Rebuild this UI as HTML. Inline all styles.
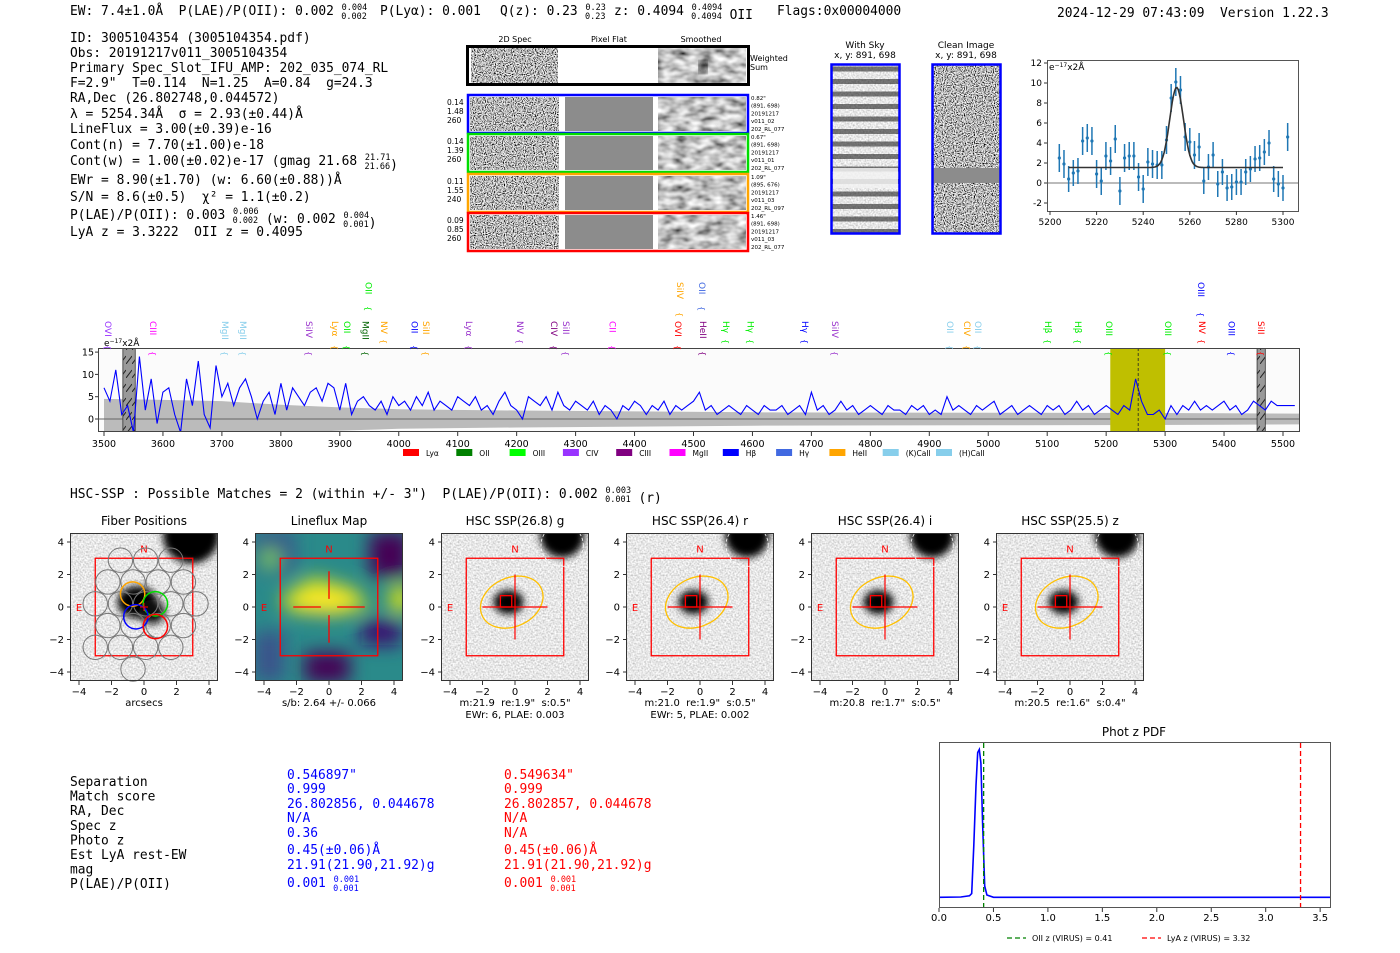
<!DOCTYPE html>
<html><head><meta charset="utf-8"><style>
html,body{margin:0;padding:0;background:#fff;width:1400px;height:953px;overflow:hidden}
svg{display:block}
text{white-space:pre}
.m{font-family:"DejaVu Sans Mono","Liberation Mono",monospace;font-size:12.9px}
.s{font-family:"DejaVu Sans","Liberation Sans",sans-serif}
</style></head><body>
<svg id="fig" width="1400" height="953" viewBox="0 0 1400 953" xmlns="http://www.w3.org/2000/svg" xml:space="preserve">
<defs>
<filter id="nz" x="0" y="0" width="100%" height="100%"><feTurbulence type="fractalNoise" baseFrequency="0.9" numOctaves="1" seed="3"/><feColorMatrix type="matrix" values="3 0 0 0 -1 3 0 0 0 -1 3 0 0 0 -1 0 0 0 0 1"/></filter>
<filter id="nzs" x="0" y="0" width="100%" height="100%"><feTurbulence type="fractalNoise" baseFrequency="0.08 0.14" numOctaves="2" seed="5"/><feColorMatrix type="matrix" values="1.4 0 0 0 -0.15 1.4 0 0 0 -0.15 1.4 0 0 0 -0.15 0 0 0 0 1"/></filter>
<filter id="nzc" x="0" y="0" width="100%" height="100%"><feTurbulence type="fractalNoise" baseFrequency="0.6" numOctaves="1" seed="7"/><feColorMatrix type="matrix" values="0.9 0 0 0 0.35 0.9 0 0 0 0.35 0.9 0 0 0 0.35 0 0 0 0 1"/></filter>
<filter id="bl"><feGaussianBlur stdDeviation="4"/></filter>
<filter id="bl2"><feGaussianBlur stdDeviation="9"/></filter>
<pattern id="hatch" width="6" height="14" patternUnits="userSpaceOnUse"><rect width="6" height="14" fill="#999"/><line x1="0" y1="14" x2="6" y2="6" stroke="#222" stroke-width="1"/></pattern>
<pattern id="stripes" width="10" height="12.5" patternUnits="userSpaceOnUse"><rect width="10" height="5" y="4" fill="#222" opacity="0.6"/></pattern>
</defs>
<g id="root"></g>
</svg>
<script>
const NS='http://www.w3.org/2000/svg';
const root=document.getElementById('root');
function mk(tag,attrs,parent){const e=document.createElementNS(NS,tag);for(const k in attrs)e.setAttribute(k,attrs[k]);(parent||root).appendChild(e);return e;}
function tx(x,y,s,attrs,parent){const e=mk('text',Object.assign({x:x,y:y},attrs||{}),parent);e.textContent=s;return e;}

// ---------------- DATA ----------------
const specWaveStart=3500, specWaveStep=10;
const specFlux=[7,4,11,1,3,-3,14,2,9,-1,6,7,1,-3,9,3,13,1,-2,12,5,
8,3,7,9,5,0,4,6,1,8,2,7,5,3,6,7,4,8,7,2,
8,1,4,5,3,2,4,1,5,3,4,2,5,3,6,2,4,3,2,5,
4,3,5,2,3,1,4,6,3,2,0,5,4,3,5,2,6,3,2,4,
3,2,4,1,3,2,0,3,2,4,3,1,3,2,4,1,3,2,3,4,
6,2,3,1,2,3,2,1,3,2,1,3,2,2,3,1,2,3,1,6,
2,3,1,2,4,2,3,1,2,3,2,1,3,2,2,1,3,2,3,1,
2,1,5,2,3,2,1,3,2,3,4,1,2,3,1,2,3,2,1,3,
2,3,1,2,4,2,3,1,2,3,2,1,3,2,9,4,1,1,2,0,
3,1,3,2,4,2,3,2,3,4,2,3,1,2,4,3,2,4,3,3,3,3];
const errWaves=[3500,3600,3700,3750,3800,3900,4000,4200,4400,4600,5000,5400,5530];
const errVals=[4.5,4.3,4.0,3.6,3.2,2.6,2.2,1.9,1.7,1.5,1.4,1.3,1.2];
const specXTicks=[3500,3600,3700,3800,3900,4000,4100,4200,4300,4400,4500,4600,4700,4800,4900,5000,5100,5200,5300,5400,5500];
const specYTicks=[0,5,10,15];
const lineLabels=['OVI','CIII','MgII','MgII','SiIV','Lyα','OII','MgII','NV','OII','SiII','Lyα','NV','CIV','SiII','CII','OVI','HeII','Hγ','Hγ','Hγ','SiIV','OII','CIV','OII','Hβ','Hβ','OIII','OIII','NV','OIII','SiII','OII','SiIV','OII','OIII'];
const lineWaves=[3507,3583,3705,3736,3848,3892,3912,3944,3975,4027,4046,4119,4206,4263,4284,4363,4474,4516,4555,4597,4689,4740,4935,4964,4983,5101,5152,5205,5305,5363,5413,5463,3949,4477,4514,5361];
const lineColors=['#9933ff','#ff00ff','#87ceeb','#87ceeb','#9932cc','#ffa500','#00ee00','#006400','#ffa500','#0000ff','#ffa500','#9932cc','#9932cc','#800080','#9932cc','#ff00ff','#ff0000','#800080','#00ee00','#00ee00','#0000ff','#9932cc','#87ceeb','#ffa500','#87ceeb','#00ee00','#00ee00','#00ee00','#00ee00','#ff0000','#0000ff','#ff0000','#00ee00','#ffa500','#4169e1','#0000ff'];
const lineRows=[0,0,0,0,0,0,0,0,0,0,0,0,0,0,0,0,0,0,0,0,0,0,0,0,0,0,0,0,0,0,0,0,1,1,1,1];
const legendNames=['Lyα','OII','OIII','CIV','CIII','MgII','Hβ','Hγ','HeII','(K)CaII','(H)CaII'];
const legendColors=['#ff0000','#008000','#00ff00','#9933ff','#800080','#ff00ff','#0000ff','#4169e1','#ffa500','#87ceeb','#87ceeb'];

const fitWaves=[5204,5206,5208,5210,5212,5214,5216,5218,5220,5222,5224,5226,5228,5230,5232,5234,5236,5238,5240,5242,5244,5246,5248,5250,5252,5254,5256,5258,5260,5262,5264,5266,5268,5270,5272,5274,5276,5278,5280,5282,5284,5286,5288,5290,5292,5294,5296,5298,5300,5302];
const fitFlux=[2.5,1.9,0.4,1.0,1.2,4.2,4.5,4.2,0.9,0.2,2.7,2.2,4.4,-0.8,2.5,2.7,2.7,0.6,-0.6,2.1,1.9,1.8,1.8,4.3,8.5,10.1,9.3,4.6,4.1,2.8,3.6,0.2,1.6,2.8,-0.1,1.1,-0.5,-0.4,0.1,0.1,1.1,1.4,2.4,2.5,3.1,4.0,0.4,-0.1,-0.5,4.6];
const fitErr=[1.4,1.4,1.3,1.3,1.3,1.4,1.4,1.4,1.4,1.4,1.4,1.4,1.4,1.4,1.4,1.4,1.4,1.4,1.4,1.4,1.4,1.4,1.4,1.4,1.4,1.4,1.4,1.4,1.4,1.4,1.4,1.3,1.3,1.3,1.3,1.3,1.3,1.3,1.3,1.3,1.3,1.3,1.3,1.3,1.3,1.3,1.3,1.3,1.3,1.4];
const fitModel={center:5254.34,sigma:2.93,amp:8.0,base:1.55,start:5208,end:5300};
const fitXTicks=[5200,5220,5240,5260,5280,5300];
const fitYTicks=[-2,0,2,4,6,8,10,12];

const pdfZ=[0,0.2,0.28,0.3,0.32,0.34,0.355,0.37,0.385,0.40,0.42,0.44,0.5,1,2,3,3.6];
const pdfP=[0.005,0.007,0.015,0.03,0.35,0.75,0.97,0.99,0.9,0.5,0.08,0.02,0.005,0.005,0.005,0.005,0.005];
const pdfXTicks=[0.0,0.5,1.0,1.5,2.0,2.5,3.0,3.5];
const pdfOII=0.41, pdfLyA=3.32;

// ---------------- HEADER TEXT ----------------
function hdr(x,y,parts,color,parent){
  const t=mk('text',{x:x,y:y,class:'m',fill:color||'#000'},parent);
  parts.forEach(p=>{
    if(typeof p==='string'){const s=mk('tspan',{},t);s.textContent=p;}
    else{
      const s1=mk('tspan',{dy:-5,'font-size':'8.5px'},t);s1.textContent=p[0];
      const s2=mk('tspan',{dx:-(p[0].length*5.2),dy:9,'font-size':'8.5px'},t);s2.textContent=p[1];
      const s3=mk('tspan',{dy:-4},t);s3.textContent='';
    }
  });
  return t;
}
const hg=mk('g',{});


hdr(70,15,['EW: 7.4±1.0Å  P(LAE)/P(OII): 0.002 ',['0.004','0.002']],'#000',hg);
hdr(380,15,['P(Lyα): 0.001'],'#000',hg);
hdr(500,15,['Q(z): 0.23 ',['0.23','0.23']],'#000',hg);
hdr(614,15,['z: 0.4094 ',['0.4094','0.4094'],' OII'],'#000',hg);
hdr(777,15,['Flags:0x00004000'],'#000',hg);
let h=tx(1057,17,'2024-12-29 07:43:09  Version 1.22.3',{class:'m'});



const infoLines=[
 ['ID: 3005104354 (3005104354.pdf)'],
 ['Obs: 20191217v011_3005104354'],
 ['Primary Spec_Slot_IFU_AMP: 202_035_074_RL'],
 ['F=2.9"  T=0.114  N=1.25  A=0.84  g=24.3'],
 ['RA,Dec (26.802748,0.044572)'],
 ['λ = 5254.34Å  σ = 2.93(±0.44)Å'],
 ['LineFlux = 3.00(±0.39)e-16'],
 ['Cont(n) = 7.70(±1.00)e-18'],
 ['Cont(w) = 1.00(±0.02)e-17 (gmag 21.68 ',['21.71','21.66'],')'],
 ['EWr = 8.90(±1.70) (w: 6.60(±0.88))Å'],
 ['S/N = 8.6(±0.5)  χ² = 1.1(±0.2)'],
 ['P(LAE)/P(OII): 0.003 ',['0.006','0.002'],' (w: 0.002 ',['0.004','0.001'],')'],
 ['LyA z = 3.3222  OII z = 0.4095']];
const infoY=[42,57,72,87,102,118,133,149,165,184,201,219,236];
const infoG=mk('g',{});


infoLines.forEach((l,i)=>{hdr(70,infoY[i],l,'#000',infoG);});

// ---------------- 2D SPEC CUTOUTS ----------------
const g2d=mk('g',{});


tx(515,42,'2D Spec',{class:'s','font-size':'8px','text-anchor':'middle'},g2d);
tx(609,42,'Pixel Flat',{class:'s','font-size':'8px','text-anchor':'middle'},g2d);
tx(701,42,'Smoothed',{class:'s','font-size':'8px','text-anchor':'middle'},g2d);
function speccell(x,y,w,hh,f,parent){mk('rect',{x:x,y:y,width:w,height:hh,fill:'#888',filter:'url(#'+f+')'},parent);}
speccell(471,48,87,36,'nz',g2d);
speccell(658,48,88,36,'nzs',g2d);
mk('ellipse',{cx:703,cy:67,rx:4,ry:6,fill:'#111',filter:'url(#bl)'},g2d);
let r=mk('rect',{x:467.5,y:46.5,width:281,height:38,fill:'none',stroke:'#000','stroke-width':3},g2d);


tx(750,61,'Weighted',{class:'s','font-size':'8px'},g2d);tx(750,70,'Sum',{class:'s','font-size':'8px'},g2d);
const rowCols=['#0000ff','#00dd00','#ffa500','#ff0000'];
const rowY=[95,134,174,213];
const rowLeft=[['0.14','1.48','260'],['0.14','1.39','260'],['0.11','1.55','240'],['0.09','0.85','260']];
const rowRight=[['0.82"','(891, 698)','20191217','v011_02','202_RL_077'],['0.67"','(891, 698)','20191217','v011_01','202_RL_077'],['1.09"','(895, 676)','20191217','v011_03','202_RL_097'],['1.46"','(891, 698)','20191217','v011_03','202_RL_077']];
rowY.forEach((y,i)=>{
  speccell(470,y+2,89,34,'nz',g2d);
  mk('rect',{x:565,y:y+2,width:88,height:34,fill:'#8c8c8c'},g2d);
  speccell(658,y+2,88,34,'nzs',g2d);
  const b=mk('rect',{x:468,y:y,width:280,height:38,fill:'none',stroke:rowCols[i],'stroke-width':2.5},g2d);
  
  
  rowLeft[i].forEach((s,k)=>tx(447,y+10+k*9,s,{class:'s','font-size':'7.5px'},g2d));
  rowRight[i].forEach((s,k)=>tx(751,y+5+k*7.7,s,{class:'s','font-size':'5.5px'},g2d));
});

// With sky / clean
const gsky=mk('g',{});


tx(865,48,'With Sky',{class:'s','font-size':'9px','text-anchor':'middle'},gsky);
tx(865,58,'x, y: 891, 698',{class:'s','font-size':'9px','text-anchor':'middle'},gsky);
tx(966,48,'Clean Image',{class:'s','font-size':'9px','text-anchor':'middle'},gsky);
tx(966,58,'x, y: 891, 698',{class:'s','font-size':'9px','text-anchor':'middle'},gsky);
mk('rect',{x:832,y:65,width:67,height:168,fill:'#888',filter:'url(#nzc)'},gsky);
mk('rect',{x:832,y:65,width:67,height:168,fill:'url(#stripes)'},gsky);
mk('rect',{x:833,y:168,width:65,height:20,fill:'#f2f2f2',opacity:0.85},gsky);
mk('rect',{x:933,y:65,width:67,height:168,fill:'#888',filter:'url(#nz)'},gsky);
mk('rect',{x:933,y:168,width:67,height:15,fill:'#8c8c8c'},gsky);
mk('rect',{x:831.5,y:64.5,width:68,height:169,fill:'none',stroke:'#0000ff','stroke-width':2.5},gsky);
mk('rect',{x:932.5,y:64.5,width:68,height:169,fill:'none',stroke:'#0000ff','stroke-width':2.5},gsky);

// ---------------- FIT PLOT ----------------
const gf=mk('g',{});


const fx=w=>1050+(w-5200)*2.33, fy=v=>183-v*10;
mk('line',{x1:1047,x2:1299,y1:fy(0),y2:fy(0),stroke:'#777','stroke-width':1},gf);
fitWaves.forEach((w,i)=>{
  const e=mk('line',{x1:fx(w),x2:fx(w),y1:fy(fitFlux[i]-fitErr[i]),y2:fy(fitFlux[i]+fitErr[i]),stroke:'#1f77b4','stroke-width':1.5},gf);
  
  
  const p=mk('circle',{cx:fx(w),cy:fy(fitFlux[i]),r:1.6,fill:'#1f77b4'},gf);
  
  
});
let md='';
for(let w=fitModel.start;w<=fitModel.end;w+=0.5){const v=fitModel.base+fitModel.amp*Math.exp(-0.5*Math.pow((w-fitModel.center)/fitModel.sigma,2));md+=(md?'L':'M')+fx(w).toFixed(1)+','+fy(v).toFixed(1);}
const fm=mk('path',{d:md,fill:'none',stroke:'#333','stroke-width':1.6},gf);


mk('rect',{x:1047.5,y:60.5,width:251,height:151,fill:'none',stroke:'#555','stroke-width':1},gf);
fitXTicks.forEach(t=>{mk('line',{x1:fx(t),x2:fx(t),y1:211,y2:215,stroke:'#333'},gf);tx(fx(t),225,t,{class:'s','font-size':'9px','text-anchor':'middle'},gf);});
fitYTicks.forEach(t=>{mk('line',{x1:1044,x2:1047,y1:fy(t),y2:fy(t),stroke:'#333'},gf);tx(1042,fy(t)+3,t,{class:'s','font-size':'9px','text-anchor':'end'},gf);});
const fu=tx(1049,70,'e',{class:'s','font-size':'9px'},gf);
let ts=mk('tspan',{dy:-3,'font-size':'6px'},fu);ts.textContent='−17';ts=mk('tspan',{dy:3},fu);ts.textContent='x2Å';

// ---------------- SPECTRUM ----------------
const gs=mk('g',{});


const sx=w=>104+(w-3500)*0.5895, sy=f=>419-f*4.46;
const clipR=mk('clipPath',{id:'specclip'},gs);mk('rect',{x:98,y:348,width:1202,height:84},clipR);
const gc=mk('g',{'clip-path':'url(#specclip)'},gs);
mk('rect',{x:98,y:348,width:1202,height:84,fill:'#fbfbfb'},gc);
let up='';
errWaves.forEach((w,i)=>{up+=(i?'L':'M')+sx(w)+','+sy(errVals[i]);});
for(let i=errWaves.length-1;i>=0;i--){up+='L'+sx(errWaves[i])+','+sy(-errVals[i]);}
const band=mk('path',{d:up+'Z',fill:'#bbb'},gc);


mk('line',{x1:98,x2:1300,y1:sy(0),y2:sy(0),stroke:'#666','stroke-width':1},gc);
const yb=mk('rect',{x:sx(5207),y:348,width:sx(5300)-sx(5207),height:84,fill:'#bfbf00'},gc);


mk('rect',{x:sx(3532),y:348,width:sx(3553)-sx(3532),height:84,fill:'url(#hatch)',stroke:'#333','stroke-width':0.8},gc);
mk('rect',{x:sx(5456),y:348,width:sx(5470)-sx(5456),height:84,fill:'url(#hatch)',stroke:'#333','stroke-width':0.8},gc);
let sp='';specFlux.forEach((f,i)=>{sp+=(i?'L':'M')+sx(specWaveStart+i*specWaveStep).toFixed(1)+','+sy(f).toFixed(1);});
const sl=mk('path',{d:sp,fill:'none',stroke:'#0000ff','stroke-width':1.1},gc);


mk('line',{x1:sx(5254.34),x2:sx(5254.34),y1:348,y2:432,stroke:'#222','stroke-dasharray':'3,2','stroke-width':0.8},gc);
mk('rect',{x:98.5,y:348.5,width:1201,height:83,fill:'none',stroke:'#444','stroke-width':1},gs);
specXTicks.forEach(t=>{mk('line',{x1:sx(t),x2:sx(t),y1:432,y2:436,stroke:'#333'},gs);tx(sx(t),447,t,{class:'s','font-size':'9.5px','text-anchor':'middle'},gs);});
specYTicks.forEach(t=>{mk('line',{x1:95,x2:98,y1:sy(t),y2:sy(t),stroke:'#333'},gs);tx(94,sy(t)+3.5,t,{class:'s','font-size':'9.5px','text-anchor':'end'},gs);});
const su=tx(104,346,'e',{class:'s','font-size':'9px'},gs);
ts=mk('tspan',{dy:-3,'font-size':'6px'},su);ts.textContent='−17';ts=mk('tspan',{dy:3},su);ts.textContent='x2Å';
lineLabels.forEach((lab,i)=>{
  const x=sx(lineWaves[i]);const top=lineRows[i]?282:321;
  const t=tx(0,0,lab,{class:'s','font-size':'9px',fill:lineColors[i],transform:'translate('+(x-3)+','+top+') rotate(90)'},gs);
  
  
  tx(0,0,'{',{class:'s','font-size':'8px',fill:lineColors[i],transform:'translate('+(x-3)+','+(top+lab.length*6+6)+') rotate(90)'},gs);
});
legendNames.forEach((n,i)=>{
  const x=403+i*53.3;
  const lr=mk('rect',{x:x,y:449,width:16,height:7,fill:legendColors[i]},gs);
  
  
  tx(x+23,456,n,{class:'s','font-size':'7.5px'},gs);
});

// ---------------- HSC line ----------------
h=hdr(70,498,['HSC-SSP : Possible Matches = 2 (within +/- 3")  P(LAE)/P(OII): 0.002 ',['0.003','0.001'],' (r)']);



// ---------------- CUTOUTS ----------------
const cutLeft=[70,255,441,626,811,996];
const cutTitles=['Fiber Positions','Lineflux Map','HSC SSP(26.8) g','HSC SSP(26.4) r','HSC SSP(26.4) i','HSC SSP(25.5) z'];
const cutXlab=[['arcsecs'],['s/b: 2.64 +/- 0.066'],['m:21.9  re:1.9"  s:0.5"','EWr: 6, PLAE: 0.003'],['m:21.0  re:1.9"  s:0.5"','EWr: 5, PLAE: 0.002'],['m:20.8  re:1.7"  s:0.5"'],['m:20.5  re:1.6"  s:0.4"']];
const fibOffsets=[[-0.7,0.8,'#ffa500'],[0.7,0.2,'#00dd00'],[-0.5,-0.6,'#0000ff'],[0.7,-1.2,'#ff0000']];
cutLeft.forEach((L,k)=>{
  const g=mk('g',{});
  
  
  const cx=L+74, cy=607, u=16.25;
  const px=a=>cx+a*u, py=a=>cy-a*u;
  const cp=mk('clipPath',{id:'cc'+k},g);mk('rect',{x:L,y:533,width:148,height:148},cp);
  const gi=mk('g',{'clip-path':'url(#cc'+k+')'},g);
  if(k===1){
    mk('rect',{x:L,y:533,width:148,height:148,fill:'#2a8a8a'},gi);
    const gb=mk('g',{filter:'url(#bl2)'},gi);
    mk('rect',{x:px(-4.6),y:py(4.6),width:40,height:40,fill:'#3b528b'},gb);
    mk('rect',{x:px(2.5),y:py(4.6),width:40,height:45,fill:'#440154'},gb);
    mk('rect',{x:px(-1.5),y:py(-2.8),width:45,height:30,fill:'#440154'},gb);
    mk('rect',{x:px(2),y:py(-0.8),width:40,height:25,fill:'#3b0f70'},gb);
    mk('rect',{x:px(-4.6),y:py(-1.5),width:30,height:50,fill:'#3b528b'},gb);
    mk('polygon',{points:[px(-3),py(0.6),px(-1),py(1.9),px(1.5),py(1.2),px(2.6),py(0),px(0.5),py(-0.5),px(-2.5),py(-0.3)].join(' '),fill:'#c8e020'},gb);
    mk('ellipse',{cx:px(-0.3),cy:py(0.3),rx:30,ry:12,fill:'#fde725'},gb);
    mk('ellipse',{cx:px(4.4),cy:py(0.5),rx:12,ry:14,fill:'#d8e219'},gb);
    mk('ellipse',{cx:px(-3.6),cy:py(3),rx:10,ry:10,fill:'#7ad151'},gb);
  } else {
    mk('rect',{x:L,y:533,width:148,height:148,fill:'#888',filter:'url(#nzc)'},gi);
    const gb=mk('g',{filter:'url(#bl)'},gi);
    mk('circle',{cx:px(2.9),cy:py(4.4),r:k===0?28:22,fill:'#000'},gb);
    mk('ellipse',{cx:px(-0.4),cy:py(0.3),rx:k===0?20:15,ry:k===0?16:12,fill:'#000'},gb);
    if(k===0) mk('ellipse',{cx:px(0.5),cy:py(-0.3),rx:13,ry:12,fill:'#111'},gb);
  }
  mk('rect',{x:px(-3),y:py(3),width:6*u,height:6*u,fill:'none',stroke:'#ff0000','stroke-width':1.3},g);
  tx(px(0),py(3.6)+4,'N',{class:'s','font-size':'10px',fill:'#ff0000','text-anchor':'middle'},g);
  tx(px(-4),py(0)+4,'E',{class:'s','font-size':'10px',fill:'#ff0000','text-anchor':'middle'},g);
  if(k===0){
    for(let i=-4;i<=4;i++)for(let j=-4;j<=4;j++){
      const ax=(i+j*0.5)*1.55+0.1, ay=j*1.34+0.2;
      if(Math.hypot(ax,ay)<3.9){const c=mk('circle',{cx:px(ax),cy:py(ay),r:0.75*u,fill:'none',stroke:'#777','stroke-width':1},g);
        
        }
    }
    fibOffsets.forEach(f=>mk('circle',{cx:px(f[0]),cy:py(f[1]),r:0.75*u,fill:'none',stroke:f[2],'stroke-width':1.5},g));
    mk('path',{d:'M'+(cx-4)+','+cy+'h8M'+cx+','+(cy-4)+'v8',stroke:'#ff0000','stroke-width':1},g);
  } else if(k===1){
    mk('path',{d:'M'+px(-2.2)+','+cy+'H'+px(-0.5)+'M'+px(0.5)+','+cy+'H'+px(2.2)+'M'+cx+','+py(2.2)+'V'+py(0.5)+'M'+cx+','+py(-0.5)+'V'+py(-2.2),stroke:'#ff0000','stroke-width':1.3},g);
  } else {
    mk('circle',{cx:px(2.9),cy:py(3.8),r:1.3*u,fill:'none',stroke:'#fff','stroke-width':0.8,'stroke-dasharray':'3,2'},g);
    mk('ellipse',{cx:px(-0.2),cy:py(0.3),rx:2*u,ry:1.5*u,fill:'none',stroke:'#ffc000','stroke-width':1.3,transform:'rotate(-25 '+px(-0.2)+' '+py(0.3)+')'},g);
    mk('path',{d:'M'+px(-2)+','+cy+'H'+px(2)+'M'+cx+','+py(2)+'V'+py(-2),stroke:'#ff0000','stroke-width':1.2},g);
    mk('rect',{x:px(-0.9),y:py(0.7),width:0.7*u,height:0.7*u,fill:'none',stroke:'#ff0000','stroke-width':1.3},g);
  }
  mk('rect',{x:L+0.5,y:533.5,width:147,height:147,fill:'none',stroke:'#333','stroke-width':1},g);
  [-4,-2,0,2,4].forEach(t=>{
    mk('line',{x1:px(t),x2:px(t),y1:681,y2:685,stroke:'#333'},g);
    tx(px(t),695,t<0?'−'+(-t):t,{class:'s','font-size':'10px','text-anchor':'middle'},g);
    mk('line',{x1:L-3,x2:L,y1:py(t),y2:py(t),stroke:'#333'},g);
    tx(L-6,py(t)+3.5,t<0?'−'+(-t):t,{class:'s','font-size':'10px','text-anchor':'end'},g);
  });
  const tt=tx(cx,525,cutTitles[k],{class:'s','font-size':'12px','text-anchor':'middle'},g);
  
  
  cutXlab[k].forEach((s,i)=>tx(cx,706+i*12,s,{class:'s','font-size':'10px','text-anchor':'middle'},g));
});

// ---------------- MATCH TABLE ----------------
const gt=mk('g',{});


const tabLabels=['Separation','Match score','RA, Dec','Spec z','Photo z','Est LyA rest-EW','mag','P(LAE)/P(OII)'];
tabLabels.forEach((s,i)=>tx(70,786+i*14.6,s,{class:'m'},gt));
const colA=['0.546897"','0.999','26.802856, 0.044678','N/A','0.36','0.45(±0.06)Å','21.91(21.90,21.92)g'];
const colB=['0.549634"','0.999','26.802857, 0.044678','N/A','N/A','0.45(±0.06)Å','21.91(21.90,21.92)g'];
const colY=[779,793,808,822,837,854,869];
colA.forEach((s,i)=>tx(287,colY[i],s,{class:'m',fill:'#0000ff'},gt));
colB.forEach((s,i)=>tx(504,colY[i],s,{class:'m',fill:'#ff0000'},gt));
hdr(287,887,['0.001 ',['0.001','0.001']],'#0000ff',gt);
hdr(504,887,['0.001 ',['0.001','0.001']],'#ff0000',gt);

// ---------------- PHOT Z PDF ----------------
const gp=mk('g',{});


const pxz=z=>939+z*108.9, pyp=p=>898-p*150;
tx(1134,736,'Phot z PDF',{class:'s','font-size':'12px','text-anchor':'middle'},gp);
let pd='';pdfZ.forEach((z,i)=>{pd+=(i?'L':'M')+pxz(z).toFixed(1)+','+pyp(pdfP[i]).toFixed(1);});
const pl=mk('path',{d:pd,fill:'none',stroke:'#0000ff','stroke-width':1.6},gp);


mk('line',{x1:pxz(pdfOII),x2:pxz(pdfOII),y1:743,y2:907,stroke:'#008000','stroke-width':1.3,'stroke-dasharray':'5,3'},gp);
mk('line',{x1:pxz(pdfLyA),x2:pxz(pdfLyA),y1:743,y2:907,stroke:'#ff0000','stroke-width':1.3,'stroke-dasharray':'5,3'},gp);
mk('rect',{x:939.5,y:742.5,width:391,height:165,fill:'none',stroke:'#555','stroke-width':1},gp);
pdfXTicks.forEach(t=>{mk('line',{x1:pxz(t),x2:pxz(t),y1:908,y2:912,stroke:'#333'},gp);tx(pxz(t),921,t.toFixed(1),{class:'s','font-size':'10px','text-anchor':'middle'},gp);});
mk('line',{x1:1007,x2:1026,y1:938,y2:938,stroke:'#008000','stroke-width':1.3,'stroke-dasharray':'5,3'},gp);
tx(1032,941,'OII z (VIRUS) = 0.41',{class:'s','font-size':'8px'},gp);
mk('line',{x1:1142,x2:1161,y1:938,y2:938,stroke:'#ff0000','stroke-width':1.3,'stroke-dasharray':'5,3'},gp);
tx(1167,941,'LyA z (VIRUS) = 3.32',{class:'s','font-size':'8px'},gp);
</script>
</body></html>
